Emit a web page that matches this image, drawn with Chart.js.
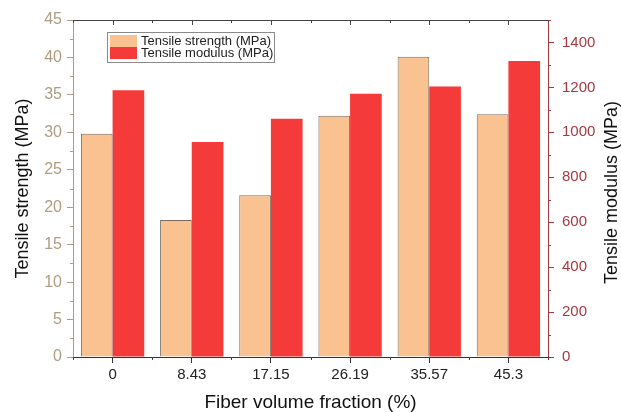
<!DOCTYPE html>
<html lang="en">
<head>
  <meta charset="UTF-8">
  <title>Tensile strength and modulus vs fiber volume fraction</title>
  <script src="https://cdn.jsdelivr.net/npm/chart.js"></script>
  <style>
    html, body { margin: 0; padding: 0; background: #fff; }
    #wrap { width: 621px; height: 412px; }
  </style>
</head>
<body>
  <div id="wrap"><canvas id="barChart"></canvas></div>

<script>
  // values
  const categories = ['0', '8.43', '17.15', '26.19', '35.57', '45.3'];
  const strength = [29.8, 18.3, 21.6, 32.2, 40.1, 32.4];
  const modulus = [1187, 957, 1061, 1172, 1204, 1317];
  const leftTicks = [0, 5, 10, 15, 20, 25, 30, 35, 40, 45];
  const rightTicks = [0, 200, 400, 600, 800, 1000, 1200, 1400];
  const rightTitle = 'Tensile modulus (MPa)';

  const tan = '#b09c82';
  const wine = '#a83840';
  const font = 'Liberation Sans, Arial, sans-serif';

  // minor ticks, top frame, right title (reads upward) and boxed legend
  const extras = {
    id: 'extras',
    afterDraw(chart) {
      const c = chart.ctx;
      const a = chart.chartArea;
      const x = chart.scales.x, y = chart.scales.y, y1 = chart.scales.y1;
      c.save();
      c.lineWidth = 1;

      // top frame with ticks
      c.strokeStyle = '#444';
      c.beginPath();
      c.moveTo(a.left, a.top + 0.5);
      c.lineTo(a.right, a.top + 0.5);
      categories.forEach((cat, i) => {
        const px = Math.round(x.getPixelForValue(i)) + 0.5;
        c.moveTo(px, a.top); c.lineTo(px, a.top + 5);
      });
      for (let i = 0; i <= categories.length; i++) {
        const px = Math.round(x.getPixelForValue(i - 0.5)) + 0.5;
        c.moveTo(px, a.top); c.lineTo(px, a.top + 3);
        c.moveTo(px, a.bottom); c.lineTo(px, a.bottom + 3);
      }
      c.stroke();

      // left minor ticks
      c.strokeStyle = tan;
      c.beginPath();
      for (let v = 2.5; v < 45; v += 5) {
        const py = Math.round(y.getPixelForValue(v)) + 0.5;
        c.moveTo(a.left, py); c.lineTo(a.left - 3, py);
      }
      c.stroke();

      // right minor ticks
      c.strokeStyle = wine;
      c.beginPath();
      for (let v = 100; v <= 1500; v += 200) {
        const py = Math.round(y1.getPixelForValue(v)) + 0.5;
        c.moveTo(a.right, py); c.lineTo(a.right + 3, py);
      }
      c.stroke();

      // right axis title, rotated to read bottom-to-top
      c.save();
      c.translate(612, (a.top + a.bottom) / 2 + 4);
      c.rotate(-Math.PI / 2);
      c.font = '18px ' + font;
      c.textAlign = 'center';
      c.textBaseline = 'middle';
      c.fillStyle = '#111';
      c.fillText(rightTitle, 0, 0);
      c.restore();

      // legend box
      const lx = a.left + 34, ly = a.top + 12;
      c.strokeStyle = '#8a8a8a';
      c.strokeRect(lx + 0.5, ly + 0.5, 167, 30);
      c.font = '13px ' + font;
      c.textBaseline = 'middle';
      chart.data.datasets.forEach((ds, i) => {
        const ry = ly + 3 + i * 12;
        c.fillStyle = ds.backgroundColor;
        c.fillRect(lx + 3, ry, 27, 12);
        c.fillStyle = '#222';
        c.fillText(ds.label, lx + 34, ry + 6.5);
      });
      c.restore();
    }
  };

  const ctx = document.getElementById('barChart').getContext('2d');
  new Chart(ctx, {
    type: 'bar',
    data: {
      labels: categories,
      datasets: [
        {
          label: 'Tensile strength (MPa)',
          data: strength,
          yAxisID: 'y',
          backgroundColor: '#f9c290',
          borderColor: '#7c6c5e',
          borderWidth: 1,
          categoryPercentage: 0.8,
          barPercentage: 1.0
        },
        {
          label: 'Tensile modulus (MPa)',
          data: modulus,
          yAxisID: 'y1',
          backgroundColor: '#f53a3a',
          borderWidth: 0,
          categoryPercentage: 0.8,
          barPercentage: 1.0
        }
      ]
    },
    options: {
      responsive: true,
      maintainAspectRatio: false,
      animation: false,
      layout: { padding: { top: 20, left: 0, right: 0, bottom: 0 } },
      plugins: {
        legend: { display: false },
        tooltip: { enabled: false }
      },
      scales: {
        x: {
          offset: true,
          grid: { drawOnChartArea: false, offset: false, tickLength: 6, tickColor: '#333' },
          border: { color: '#333' },
          ticks: { padding: 3, color: '#222', font: { family: font, size: 15 } },
          title: {
            display: true,
            text: 'Fiber volume fraction (%)',
            color: '#111',
            font: { family: font, size: 19, lineHeight: 1 },
            padding: { top: 0, bottom: 0 }
          },
          afterFit(s) { s.height = 55; }
        },
        y: {
          position: 'left',
          min: 0,
          max: 45,
          afterBuildTicks(s) { s.ticks = leftTicks.map(v => ({ value: v })); },
          grid: { drawOnChartArea: false, tickLength: 6, tickColor: tan },
          border: { color: tan },
          ticks: { padding: 5, color: tan, font: { family: font, size: 16 } },
          title: {
            display: true,
            text: 'Tensile strength (MPa)',
            color: '#111',
            font: { family: font, size: 18 },
            padding: { top: 12, bottom: 0 }
          },
          afterFit(s) { s.width = 73; }
        },
        y1: {
          position: 'right',
          min: 0,
          max: 1500,
          afterBuildTicks(s) { s.ticks = rightTicks.map(v => ({ value: v })); },
          grid: { drawOnChartArea: false, tickLength: 6, tickColor: wine },
          border: { color: wine },
          ticks: {
            padding: 8,
            color: wine,
            font: { family: font, size: 15 },
            callback: v => String(v)
          },
          afterFit(s) { s.width = 73; }
        }
      }
    },
    plugins: [extras]
  });
</script>
</body>
</html>
